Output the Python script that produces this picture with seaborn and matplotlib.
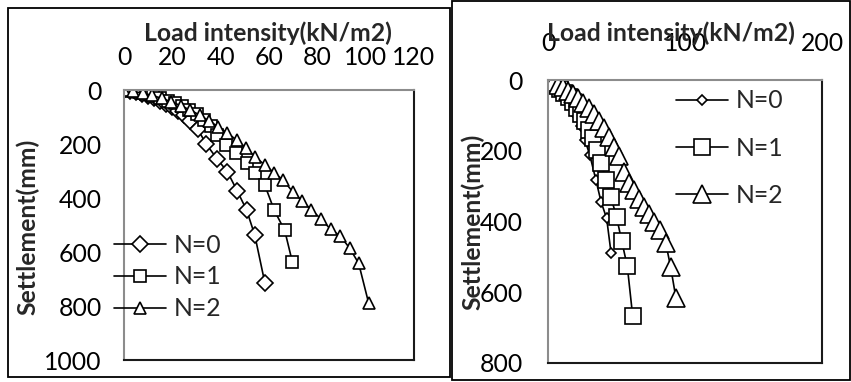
import matplotlib
matplotlib.use("Agg")
import matplotlib.pyplot as plt
import seaborn as sns
import pandas as pd
from matplotlib.patches import Rectangle

# ---------------- data ----------------
# Left chart
left_n0_x = [0, 2.5, 5, 7.5, 10, 12.5, 15, 17.5, 20, 22.5, 25, 27.5, 30.5, 34, 38.5, 42.8, 46.8, 50.7, 54.1, 58.3]
left_n0_y = [0, 4, 9, 15, 22, 30, 40, 51, 63, 77, 94, 115, 145, 200, 255, 303, 373, 444, 537, 715]
left_n1_x = [0, 3, 6, 9, 12, 15, 18, 21, 24, 27, 30, 33, 36, 38.5, 42, 46.5, 50.7, 54.3, 58.3, 62.2, 66.5, 69.7]
left_n1_y = [0, 4, 9, 15, 22, 30, 39, 49, 60, 73, 88, 110, 135, 165, 205, 234, 271, 308, 353, 446, 520, 638]
left_n2_x = [0, 3.9, 7.8, 11.7, 15.6, 19.5, 23.4, 27.4, 31.3, 35.1, 39, 42.8, 46.6, 50.4, 54.3, 58.3,
             62, 65.8, 70, 73.7, 77.5, 81.7, 85.5, 89.5, 93.4, 97.1, 101.2]
left_n2_y = [0, 5, 12, 20, 31, 43, 58, 74, 93, 114, 136, 160, 185, 214, 248, 278,
             306, 333, 379, 410, 444, 479, 516, 541, 586, 642, 788]

# Right chart
right_n0_x = [0, 3, 6, 9, 12, 15, 18, 21, 24, 27, 30.5, 35, 38.7, 42.8, 46]
right_n0_y = [0, 8, 18, 30, 44, 60, 80, 103, 130, 170, 212, 283, 344, 391, 488]
right_n1_x = [0, 3, 6, 9, 12, 15, 18, 21, 24, 27, 30, 33, 36, 38.7, 42.3, 46, 50.1, 53.8, 57.9, 61.8]
right_n1_y = [0, 7, 15, 25, 36, 49, 63, 79, 97, 117, 140, 165, 198, 234, 283, 332, 388, 455, 527, 667]
right_n2_x = [0, 3.7, 7.4, 11.1, 14.8, 18.5, 22.2, 25.9, 29.6, 33.3, 37, 40.7, 44.4, 48.1, 51.8, 55.5,
              59.2, 62.9, 66.6, 70.3, 74, 77.7, 81.4, 85.9, 89.5, 93.4]
right_n2_y = [0, 6, 13, 21, 30, 40, 52, 65, 78, 96, 115, 135, 160, 190, 215, 260,
              290, 310, 335, 360, 380, 400, 425, 460, 528, 617]

series_labels = ["N=0", "N=1", "N=2"]
left_xticks = [0, 20, 40, 60, 80, 100, 120]
left_yticks = [0, 200, 400, 600, 800, 1000]
right_xticks = [0, 100, 200]
right_yticks = [0, 200, 400, 600, 800]
x_title = "Load intensity(kN/m2)"
y_title = "Settlement(mm)"

# ---------------- style ----------------
sns.set_style("white")
plt.rcParams["font.family"] = ["Lato", "DejaVu Sans"]

W, H = 851, 382
fig = plt.figure(figsize=(W / 100, H / 100), dpi=100)


def fx(px):
    return px / W


def fy(py):
    return 1 - py / H


# panel frames
fig.patches.append(Rectangle((fx(8), fy(377)), fx(450) - fx(8), fy(8) - fy(377),
                             transform=fig.transFigure, fill=False, edgecolor="black", linewidth=1.3))
fig.patches.append(Rectangle((fx(452), fy(380)), fx(850) - fx(452), fy(0.7) - fy(380),
                             transform=fig.transFigure, fill=False, edgecolor="black", linewidth=1.3))

FS = 17.8

ax1 = fig.add_axes([fx(124), fy(360), fx(414) - fx(124), fy(90) - fy(360)])
ax2 = fig.add_axes([fx(548), fy(363), fx(822) - fx(548), fy(80) - fy(363)])


def draw(ax, xs, ys, markers, sizes, labels):
    for x, y, m, s, lab in zip(xs, ys, markers, sizes, labels):
        df = pd.DataFrame({"load": x, "settlement": y})
        sns.lineplot(data=df, x="load", y="settlement", ax=ax, color="black", linewidth=1.2,
                     marker=m, markersize=s, markerfacecolor="white", markeredgecolor="black",
                     markeredgewidth=1.2, label=lab, estimator=None, sort=False)


draw(ax1, [left_n0_x, left_n1_x, left_n2_x], [left_n0_y, left_n1_y, left_n2_y],
     ["D", "s", "^"], [8.5, 8, 8.5], series_labels)
draw(ax2, [right_n0_x, right_n1_x, right_n2_x], [right_n0_y, right_n1_y, right_n2_y],
     ["D", "s", "^"], [5, 12, 12.5], series_labels)

for ax, xt, yt, xpad, ypad in [(ax1, left_xticks, left_yticks, 15, 16),
                               (ax2, right_xticks, right_yticks, 18, 18)]:
    ax.set_xlim(xt[0], xt[-1])
    ax.set_ylim(yt[-1], yt[0])
    ax.set_xticks(xt)
    ax.set_yticks(yt)
    ax.xaxis.tick_top()
    ax.tick_params(axis="x", length=0, pad=xpad, labelsize=FS, colors="black")
    ax.tick_params(axis="y", length=0, pad=ypad, labelsize=FS, colors="black")
    ax.set_xlabel("")
    ax.set_ylabel("")
    ax.grid(False)
    ax.set_facecolor("white")
    ax.patch.set_alpha(0)
    for sp in ["left", "top"]:
        ax.spines[sp].set_color("#8c8c8c")
        ax.spines[sp].set_linewidth(1.5)
    for sp in ["right", "bottom"]:
        ax.spines[sp].set_color("#1a1a1a")
        ax.spines[sp].set_linewidth(1.5)
    for sp in ax.spines.values():
        sp.set_visible(True)

# legends
leg1 = ax1.legend(loc="center left", bbox_to_anchor=(fx(114), fy(277)), bbox_transform=fig.transFigure,
                  frameon=False, fontsize=FS, handlelength=2.1, handletextpad=0.3,
                  labelspacing=0.36, borderpad=0, borderaxespad=0)
leg2 = ax2.legend(loc="center left", bbox_to_anchor=(fx(676), fy(148)), bbox_transform=fig.transFigure,
                  frameon=False, fontsize=FS, handlelength=2.1, handletextpad=0.3,
                  labelspacing=0.98, borderpad=0, borderaxespad=0)

# axis titles
fig.text(fx(268), fy(33), x_title, ha="center", va="center", fontsize=FS, fontweight="bold")
fig.text(fx(671), fy(33), x_title, ha="center", va="center", fontsize=FS, fontweight="bold")
fig.text(fx(28), fy(227), y_title, ha="center", va="center", rotation=90, fontsize=FS, fontweight="bold")
fig.text(fx(473), fy(222), y_title, ha="center", va="center", rotation=90, fontsize=FS, fontweight="bold")

fig.savefig("out.png", dpi=100)
